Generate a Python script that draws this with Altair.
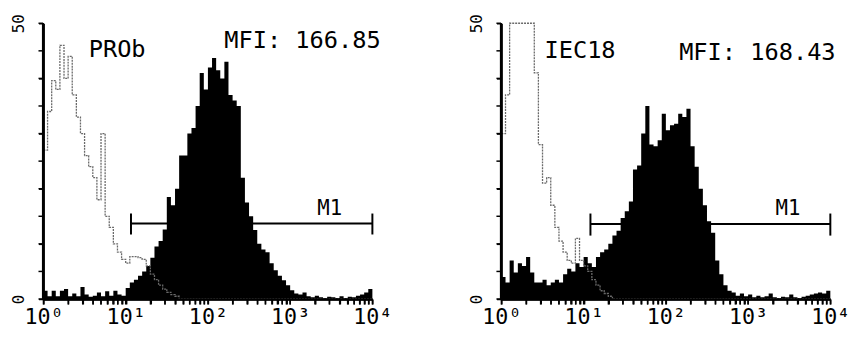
import altair as alt
import pandas as pd

# ---------------- data ----------------
# 80 histogram channels, each 0.05 decade wide, from 10^0 to 10^4
N_BINS = 80
sample_names = ["PROb", "IEC18"]
mfi_labels = ["MFI: 166.85", "MFI: 168.43"]
gate_name = "M1"
gate_start = [11.6, 12.1]      # M1 region start (fluorescence)
gate_level = [13.7, 13.6]      # counts at which the M1 bar is drawn
gate_tick_lo = [11.7, 11.5]
gate_tick_hi = [15.5, 15.5]

prob_stained = [
    1.5, 0.5, 1.5, 0.5, 1.5, 1.8, 0.5, 1.0, 0.5, 2.2,
    0.8, 0.4, 0.6, 1.2, 0.5, 1.4, 0.6, 1.5, 0.8, 0.6,
    2.0, 3.0, 3.5, 4.2, 5.0, 6.0, 7.5, 9.5, 10.5, 12.6,
    18.5, 17.0, 20.0, 26.0, 26.0, 30.0, 31.0, 35.0, 41.0, 38.0,
    42.0, 43.7, 41.5, 40.0, 43.0, 37.0, 36.0, 35.0, 22.0, 17.5,
    15.0, 12.5, 10.0, 9.0, 8.5, 6.5, 5.2, 4.2, 3.4, 2.5,
    1.6, 1.0, 0.8, 1.2, 0.5, 0.3, 0.6, 0.3, 0.2, 0.4,
    0.3, 0.2, 0.5, 0.2, 0.4, 0.3, 0.6, 0.8, 1.2, 1.8,
]
prob_control = [
    27.0, 34.0, 39.6, 38.0, 46.0, 40.0, 44.0, 37.0, 33.0, 30.0,
    26.0, 24.0, 22.0, 18.0, 30.0, 15.0, 13.0, 10.0, 8.5, 7.2,
    6.5, 7.7, 7.7, 7.5, 7.2, 6.0, 4.5, 3.5, 2.5, 1.8,
    1.2, 0.8, 0.5, 0, 0, 0, 0, 0, 0, 0,
    0, 0, 0, 0, 0, 0, 0, 0, 0, 0,
    0, 0, 0, 0, 0, 0, 0, 0, 0, 0,
    0, 0, 0, 0, 0, 0, 0, 0, 0, 0,
    0, 0, 0, 0, 0, 0, 0, 0, 0, 0,
]
iec_stained = [
    4.0, 3.0, 7.0, 4.8, 6.5, 6.0, 7.6, 4.8, 3.0, 3.0,
    3.5, 2.5, 3.0, 3.5, 3.0, 4.5, 5.5, 5.0, 6.5, 5.8,
    7.6, 6.5, 5.8, 7.6, 8.5, 9.0, 10.0, 11.5, 12.4, 14.7,
    15.9, 17.7, 23.5, 24.2, 30.0, 35.0, 28.0, 27.7, 28.8, 33.6,
    30.6, 31.5, 31.8, 33.6, 33.0, 34.5, 27.7, 24.0, 20.0, 17.0,
    14.1, 12.0, 7.0, 4.5, 2.5, 1.5, 1.2, 0.6, 1.0, 0.5,
    0.8, 0.3, 0.6, 0.3, 0.5, 1.0, 0.3, 0.2, 0.4, 0.3,
    0.8, 0.3, 0.2, 0.4, 0.6, 0.8, 1.0, 1.2, 1.0, 1.5,
]
iec_control = [
    30.0, 37.0, 50.0, 50.0, 50.0, 50.0, 50.0, 50.0, 41.0, 28.0,
    21.0, 22.0, 17.0, 13.0, 10.5, 8.5, 7.0, 6.5, 11.0, 7.0,
    6.0, 5.0, 3.5, 2.5, 1.5, 1.0, 0.5, 0, 0, 0,
    0, 0, 0, 0, 0, 0, 0, 0, 0, 0,
    0, 0, 0, 0, 0, 0, 0, 0, 0, 0,
    0, 0, 0, 0, 0, 0, 0, 0, 0, 0,
    0, 0, 0, 0, 0, 0, 0, 0, 0, 0,
    0, 0, 0, 0, 0, 0, 0, 0, 0, 0,
]
y_ticks = [0, 5, 10, 15, 20, 25, 30, 35, 40, 45, 50]
x_ticks = [m * 10 ** e for e in range(4) for m in range(1, 10)] + [10000]

# ---------------- chart ----------------
FONT = "DejaVu Sans Mono"
edges = [10 ** (i * 4 / N_BINS) for i in range(N_BINS + 1)]

x_label_expr = ("datum.value == 1 ? '10⁰' : datum.value == 10 ? '10¹' : "
                "datum.value == 100 ? '10²' : datum.value == 1000 ? '10³' : "
                "datum.value == 10000 ? '10⁴' : ''")


def panel(i, stained, control, h, name_pos, mfi_pos, m1_pos):
    xscale = alt.Scale(type="log", domain=[1, 10000], nice=False)
    yscale = alt.Scale(domain=[0, 50], nice=False)
    xaxis = alt.Axis(values=x_ticks, labelExpr=x_label_expr, title=None, grid=False,
                     domain=True, ticks=True, domainColor="black", domainWidth=2,
                     tickColor="black", tickWidth=1.5, tickSize=5, labelColor="black",
                     labelFont=FONT, labelFontSize=22, labelPadding=3, labelBound=False,
                     labelOverlap=False, labelFlush=False, zindex=1)
    yaxis = alt.Axis(values=y_ticks,
                     labelExpr="datum.value == 0 || datum.value == 50 ? datum.label : ''",
                     title=None, grid=False, domain=True, ticks=True, domainColor="black",
                     domainWidth=2, tickColor="black", tickWidth=1.5, tickSize=5,
                     labelColor="black", labelFont=FONT, labelFontSize=16, labelAngle=270,
                     labelPadding=12, labelBaseline="bottom", labelAlign="center",
                     labelOverlap=False, labelFlush=False, zindex=1)

    stained_df = pd.DataFrame({"x": edges, "count": stained + [stained[-1]]})
    ctrl_df = pd.DataFrame({"x": edges, "count": control + [control[-1]]})

    fill = alt.Chart(stained_df).mark_area(interpolate="step-after", color="black",
                                           opacity=1).encode(
        x=alt.X("x:Q", scale=xscale, axis=xaxis),
        y=alt.Y("count:Q", scale=yscale, axis=yaxis),
    )
    ctrl = alt.Chart(ctrl_df).mark_line(interpolate="step-after", color="#6a6a6a",
                                        strokeWidth=1.3, strokeDash=[2, 1]).encode(
        x="x:Q", y="count:Q")

    # axis lines drawn as data lines just outside the plot edge
    xdom = alt.Chart(pd.DataFrame({"x": [0.985, 10000.0], "y": [-0.15, -0.15]})).mark_line(
        color="black", strokeWidth=2).encode(x="x:Q", y="y:Q")
    ydom = alt.Chart(pd.DataFrame({"x": [0.985, 0.985], "y": [-0.15, 50.0]})).mark_line(
        color="black", strokeWidth=2).encode(x="x:Q", y="y:Q")
    xt = alt.Chart(pd.DataFrame({"x": [float(v) for v in x_ticks], "a": -0.1, "b": -1.0})).mark_rule(
        color="black", strokeWidth=1.5).encode(x="x:Q", y="a:Q", y2="b:Q")
    yt = alt.Chart(pd.DataFrame({"y": [float(v) for v in y_ticks], "a": 0.99, "b": 0.87})).mark_rule(
        color="black", strokeWidth=1.5).encode(y="y:Q", x="a:Q", x2="b:Q")

    gate_df = pd.DataFrame({"x": [gate_start[i]], "x2": [10000], "y": [gate_level[i]]})
    gate = alt.Chart(gate_df).mark_rule(color="black", strokeWidth=2).encode(
        x="x:Q", x2="x2:Q", y="y:Q")
    gt_df = pd.DataFrame({"x": [gate_start[i], 10000], "y": [gate_tick_lo[i]] * 2,
                          "y2": [gate_tick_hi[i]] * 2})
    gate_ticks = alt.Chart(gt_df).mark_rule(color="black", strokeWidth=2).encode(
        x="x:Q", y="y:Q", y2="y2:Q")

    txt_df = pd.DataFrame({
        "x": [name_pos[0], mfi_pos[0]],
        "y": [name_pos[1], mfi_pos[1]],
        "t": [sample_names[i], mfi_labels[i]],
    })
    texts = alt.Chart(txt_df).mark_text(align="left", baseline="middle", font=FONT,
                                        fontSize=24, color="black").encode(
        x="x:Q", y="y:Q", text="t:N")
    m1_df = pd.DataFrame({"x": [m1_pos[0]], "y": [m1_pos[1]], "t": [gate_name]})
    m1 = alt.Chart(m1_df).mark_text(align="left", baseline="bottom", font=FONT,
                                    fontSize=21, color="black").encode(
        x="x:Q", y="y:Q", text="t:N")

    return alt.layer(fill, ctrl, xdom, ydom, xt, yt, gate, gate_ticks, texts, m1).properties(
        width=334, height=h)


left = panel(0, prob_stained, prob_control, 280, (3.55, 45.1), (158, 46.8), (2140, 14.6))
right = panel(1, iec_stained, iec_control, 280, (3.34, 44.9), (145, 44.5), (2150, 14.5))

chart = (
    alt.hconcat(left, right, spacing=131, bounds="flush")
    .configure_view(strokeWidth=0)
    .properties(padding={"left": 3, "top": 3, "right": 2, "bottom": 2}, background="white")
)

chart.save("out.html", embed_options={"renderer": "svg", "actions": False})
